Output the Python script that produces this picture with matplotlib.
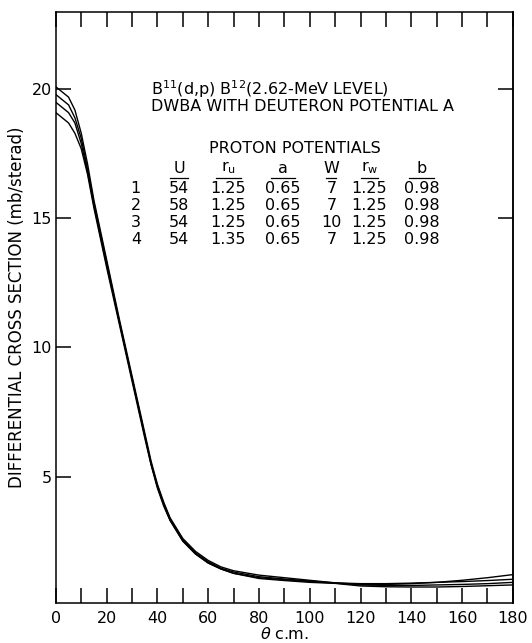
import matplotlib
matplotlib.use("Agg")
import matplotlib.pyplot as plt

# angles (deg, c.m.) and the four DWBA curves
theta = [0, 5, 7.5, 10, 12.5, 15, 20, 25, 30, 32.5, 35, 37.5, 40, 42.5, 45, 47.5, 50,
         55, 60, 65, 70, 80, 90, 100, 110, 120, 130, 140, 150, 160, 170, 180]
curve1 = [20.1, 19.7, 19.2, 18.3, 17.1, 15.7, 13.4, 11.1, 8.9, 7.8, 6.7, 5.6, 4.7, 4.0, 3.4,
          3.0, 2.6, 2.1, 1.75, 1.5, 1.35, 1.18, 1.08, 0.98, 0.88, 0.82, 0.82, 0.85, 0.9,
          0.98, 1.08, 1.2]
curve2 = [19.8, 19.4, 18.9, 18.1, 16.9, 15.6, 13.3, 11.0, 8.8, 7.7, 6.6, 5.5, 4.65, 3.95,
          3.35, 2.95, 2.55, 2.05, 1.7, 1.45, 1.3, 1.12, 1.03, 0.95, 0.88, 0.85, 0.85, 0.87,
          0.9, 0.93, 0.97, 1.02]
curve3 = [19.5, 19.1, 18.7, 17.9, 16.8, 15.5, 13.2, 11.0, 8.8, 7.7, 6.6, 5.5, 4.6, 3.9, 3.3,
          2.9, 2.5, 2.0, 1.65, 1.42, 1.25, 1.08, 1.0, 0.93, 0.87, 0.8, 0.78, 0.78, 0.8,
          0.82, 0.85, 0.9]
curve4 = [19.1, 18.7, 18.3, 17.7, 16.7, 15.4, 13.1, 10.9, 8.7, 7.6, 6.5, 5.45, 4.55, 3.85,
          3.3, 2.9, 2.5, 2.0, 1.65, 1.42, 1.25, 1.05, 0.97, 0.9, 0.86, 0.76, 0.73, 0.72,
          0.72, 0.74, 0.77, 0.8]

x_major = [0, 20, 40, 60, 80, 100, 120, 140, 160, 180]
x_minor = [10, 30, 50, 70, 90, 110, 130, 150, 170]
y_ticks = [5, 10, 15, 20]
y_ticks_right = [15, 20]

# proton potential table
headers = ["U", "r$_{\\rm u}$", "a", "W", "r$_{\\rm w}$", "b"]
row_ids = ["1", "2", "3", "4"]
U = ["54", "58", "54", "54"]
r_u = ["1.25", "1.25", "1.25", "1.35"]
a = ["0.65", "0.65", "0.65", "0.65"]
W = ["7", "7", "10", "7"]
r_w = ["1.25", "1.25", "1.25", "1.25"]
b = ["0.98", "0.98", "0.98", "0.98"]

fs = 11.5

fig = plt.figure(figsize=(5.32, 6.43), dpi=100)
ax = fig.add_axes([0.105, 0.0622, 0.859, 0.9192])

for c in [curve1, curve2, curve3, curve4]:
    ax.plot(theta, c, color="black", lw=1.0)

ax.set_xlim(0, 180)
ax.set_ylim(0.1, 23)
for s in ax.spines.values():
    s.set_linewidth(1.1)

ax.set_xticks(x_major)
ax.set_xticks(x_minor, minor=True)
ax.set_yticks(y_ticks)
ax.tick_params(axis="x", which="both", direction="in", length=10.5, width=1.1,
               top=True, labelsize=fs, pad=6)
ax.tick_params(axis="y", direction="in", length=10.5, width=1.1, labelsize=fs, pad=3)

sec = ax.secondary_yaxis("right")
sec.set_yticks(y_ticks_right)
sec.tick_params(direction="in", length=11, width=1.1, labelright=False)
sec.spines["right"].set_linewidth(1.1)

ax.set_xlabel(r"$\theta$ c.m.", fontsize=fs, labelpad=0)
ax.set_ylabel("DIFFERENTIAL CROSS SECTION (mb/sterad)", fontsize=12, labelpad=4)

ax.text(37.5, 20.0, "B$^{\\rm 11}$(d,p) B$^{\\rm 12}$(2.62-MeV LEVEL)", fontsize=fs, va="center")
ax.text(37.5, 19.35, "DWBA WITH DEUTERON POTENTIAL A", fontsize=fs, va="center")
ax.text(94, 17.7, "PROTON POTENTIALS", fontsize=fs, va="center", ha="center")

col_x = [48.5, 68, 89.5, 108.5, 123.5, 144]
col_w = [7, 9.5, 9.5, 4, 7, 9.5]
head_y = 16.95
row_y = [16.15, 15.5, 14.85, 14.2]
for hx, hw, h in zip(col_x, col_w, headers):
    ax.text(hx, head_y, h, fontsize=fs, ha="center", va="center")
    ax.plot([hx - hw / 2, hx + hw / 2], [head_y - 0.4, head_y - 0.4], color="black", lw=0.9)
for i, ry in enumerate(row_y):
    ax.text(31.5, ry, row_ids[i], fontsize=fs, ha="center", va="center")
    for hx, vals in zip(col_x, [U, r_u, a, W, r_w, b]):
        ax.text(hx, ry, vals[i], fontsize=fs, ha="center", va="center")

fig.savefig("out.png", dpi=100)
